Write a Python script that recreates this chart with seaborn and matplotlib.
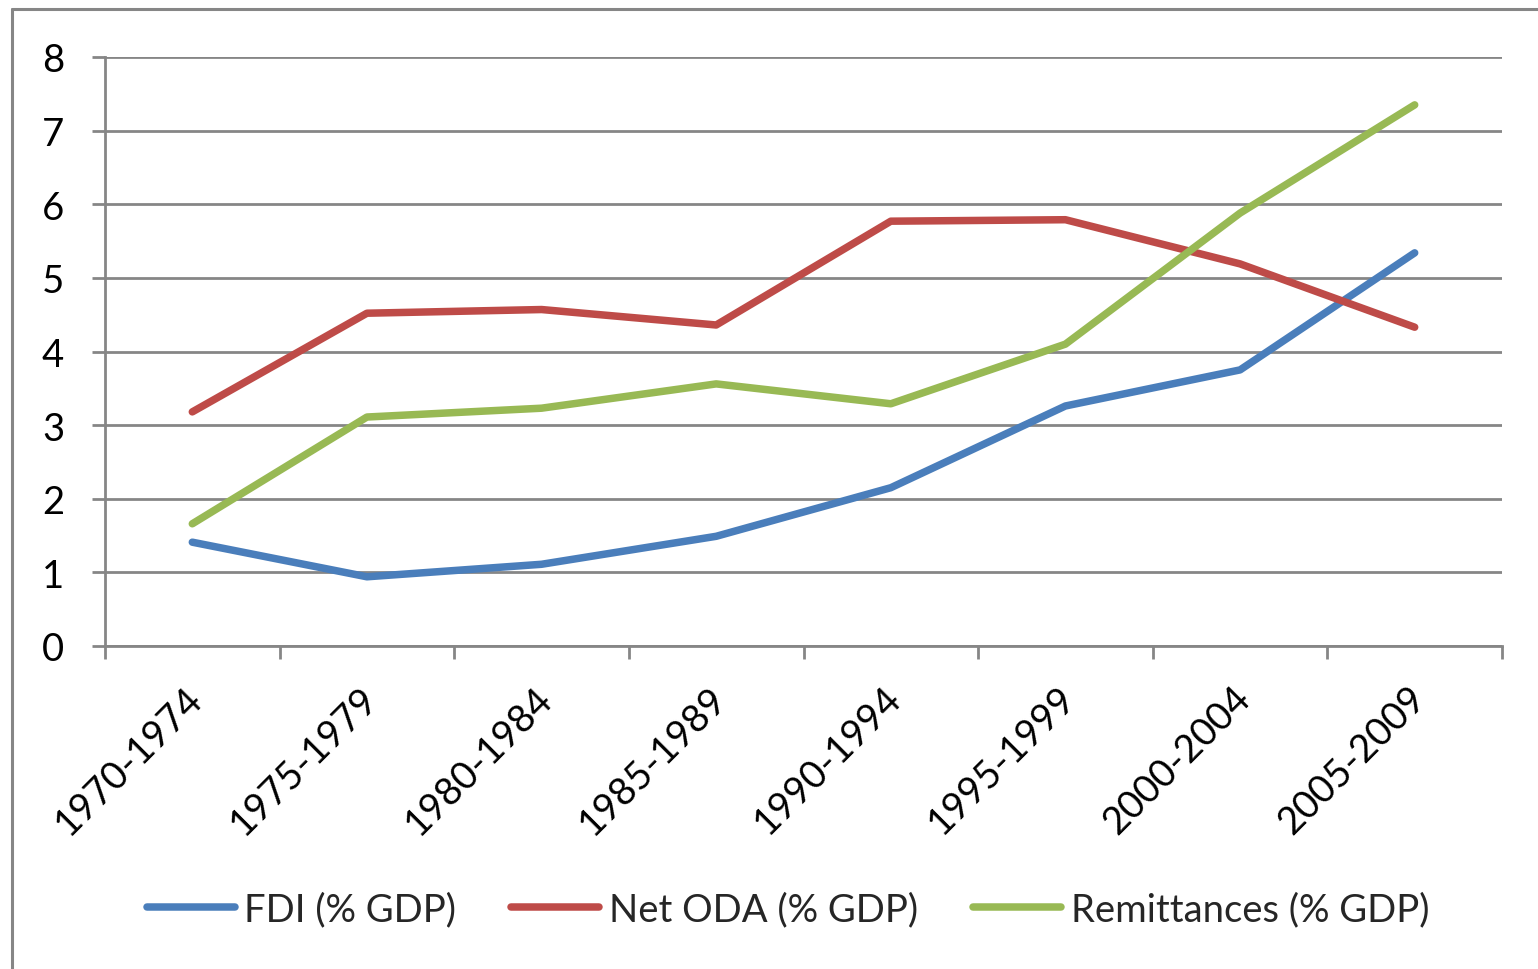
import matplotlib
matplotlib.use("Agg")
import matplotlib.pyplot as plt
import matplotlib.transforms as mtransforms
from matplotlib.lines import Line2D
import seaborn as sns
import pandas as pd
import numpy as np

periods = ["1970-1974", "1975-1979", "1980-1984", "1985-1989",
           "1990-1994", "1995-1999", "2000-2004", "2005-2009"]
fdi = [1.41, 0.94, 1.11, 1.49, 2.15, 3.26, 3.75, 5.34]
net_oda = [3.18, 4.52, 4.57, 4.36, 5.77, 5.79, 5.19, 4.33]
remittances = [1.66, 3.11, 3.23, 3.56, 3.29, 4.10, 5.88, 7.35]
series_names = ["FDI (% GDP)", "Net ODA (% GDP)", "Remittances (% GDP)"]
series_colors = ["#4A7EBB", "#BE4B48", "#98B954"]

df = pd.DataFrame({
    "period": periods * 3,
    "value": fdi + net_oda + remittances,
    "series": [s for s in series_names for _ in periods],
})
df["pos"] = [i for _ in series_names for i in range(len(periods))]

sns.set_theme(style="white")
plt.rcParams["font.family"] = ["Lato", "DejaVu Sans"]

W, H = 1538, 970
fig = plt.figure(figsize=(W / 100, H / 100), dpi=100)
ax = fig.add_axes([105 / W, 1 - 647 / H, (1502 - 105) / W, (647 - 58) / H])

grid_c = "#868686"
fs = 27.5
sns.lineplot(data=df, x="pos", y="value", hue="series", palette=series_colors,
             hue_order=series_names, sort=False, linewidth=5.4, ax=ax,
             legend=False)
for ln in ax.lines:
    ln.set_solid_capstyle("round")
    ln.set_solid_joinstyle("round")

ax.set_xlim(-0.5, len(periods) - 0.5)
ax.set_ylim(0, 8)
ax.set_yticks(range(0, 9))
ax.yaxis.grid(True, color=grid_c, linewidth=2)
ax.set_axisbelow(True)
for side in ["top", "right"]:
    ax.spines[side].set_visible(False)
for side in ["left", "bottom"]:
    ax.spines[side].set_color(grid_c)
    ax.spines[side].set_linewidth(2)

ax.set_xticks(range(len(periods)))
ax.set_xticklabels(periods, rotation=45, ha="right", rotation_mode="anchor")
ax.set_xticks(np.arange(-0.5, len(periods)), minor=True)
ax.tick_params(axis="x", which="major", length=0, pad=24, labelsize=fs,
               labelcolor="black")
ax.tick_params(axis="x", which="minor", length=9.5, width=2, color=grid_c,
               direction="out", bottom=True)
ax.tick_params(axis="y", length=9.5, width=2, color=grid_c, pad=20,
               labelsize=fs, labelcolor="black", left=True)
ax.set_xlabel("")
ax.set_ylabel("")

# nudge rotated period labels slightly left
shift = mtransforms.ScaledTranslation(-8 / 100, 0, fig.dpi_scale_trans)
for lbl in ax.get_xticklabels():
    lbl.set_transform(lbl.get_transform() + shift)

# outer chart frame
fig.add_artist(Line2D([12 / W, 12 / W], [0, 1 - 10 / H], color=grid_c,
                      linewidth=2.2, transform=fig.transFigure))
fig.add_artist(Line2D([12 / W, 1], [1 - 10 / H, 1 - 10 / H], color=grid_c,
                      linewidth=2.2, transform=fig.transFigure))

handles = [Line2D([0], [0], color=c, linewidth=5.4, solid_capstyle="round")
           for c in series_colors]
fig.legend(handles, series_names, loc="center", ncol=3, frameon=False,
           bbox_to_anchor=(788 / W, 1 - 910 / H), fontsize=fs,
           handlelength=2.3, handletextpad=0.25, columnspacing=1.45)

fig.savefig("out.png", dpi=100, facecolor="white")
